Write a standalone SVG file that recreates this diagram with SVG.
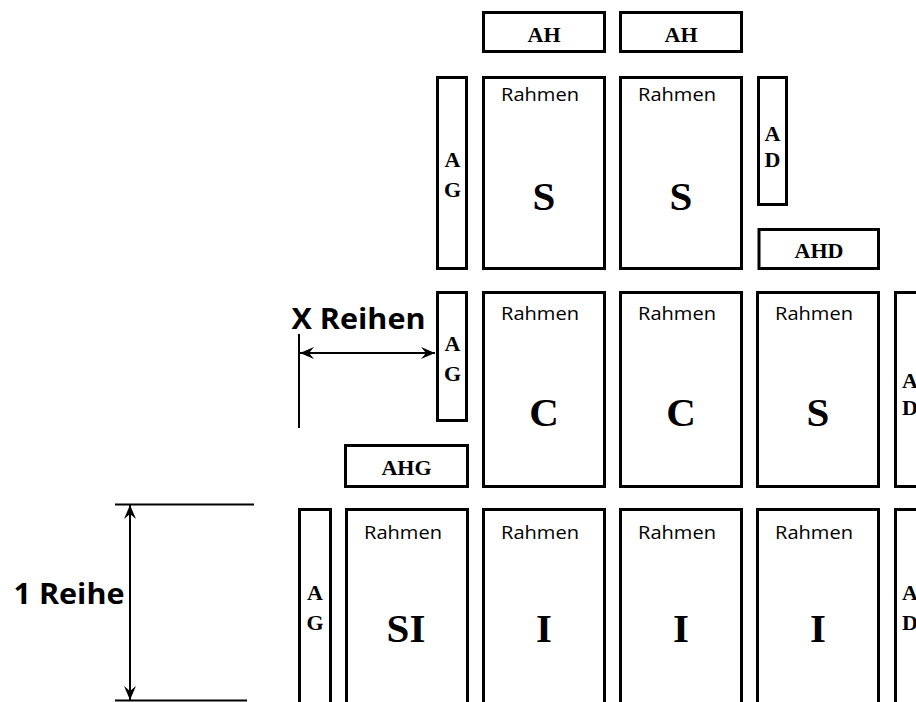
<svg xmlns="http://www.w3.org/2000/svg" width="916" height="702" viewBox="0 0 916 702">
<style>
.box{fill:#fff;stroke:#000;stroke-width:3}
.lbl{font-family:"Liberation Serif","Times New Roman",serif;font-weight:bold;fill:#000;text-anchor:middle}
.sm{font-size:22px}
.big{font-size:41px}
.rah{font-family:"Open Sans","Liberation Sans",sans-serif;font-size:19px;fill:#000;text-anchor:middle}
.dim{font-family:"Open Sans","Liberation Sans",sans-serif;font-weight:bold;font-size:28px;fill:#000}
.ln{stroke:#000;stroke-width:2;fill:none}
</style>
<defs>
<marker id="arr" viewBox="-15 -7 16 14" refX="0" refY="0" markerWidth="16" markerHeight="14" markerUnits="userSpaceOnUse" orient="auto-start-reverse">
<path d="M0,0 L-14,-6 L-9,0 L-14,6 Z" fill="#000"/>
</marker>
</defs>
<rect width="916" height="702" fill="#fff"/>

<!-- top row -->
<g id="ah1"><rect class="box" x="483.5" y="12.5" width="121" height="39"/><text class="lbl sm" x="544" y="42">AH</text></g>
<g id="ah2"><rect class="box" x="620.5" y="12.5" width="121" height="39"/><text class="lbl sm" x="681" y="42">AH</text></g>
<g id="ag1"><rect class="box" x="437.5" y="77.5" width="29" height="191"/><text class="lbl sm" x="452.5" y="167">A</text><text class="lbl sm" x="452.5" y="197">G</text></g>
<g id="s1"><rect class="box" x="483.5" y="77.5" width="121" height="191"/><text class="rah" x="540" y="101" textLength="78" lengthAdjust="spacingAndGlyphs">Rahmen</text><text class="lbl big" x="544" y="210">S</text></g>
<g id="s2"><rect class="box" x="620.5" y="77.5" width="121" height="191"/><text class="rah" x="677" y="101" textLength="78" lengthAdjust="spacingAndGlyphs">Rahmen</text><text class="lbl big" x="681" y="210">S</text></g>
<g id="ad1"><rect class="box" x="758.5" y="77.5" width="28" height="127"/><text class="lbl sm" x="772.5" y="141">A</text><text class="lbl sm" x="772.5" y="167">D</text></g>
<g id="ahd"><rect class="box" x="759" y="229.5" width="119.5" height="39"/><text class="lbl sm" x="819" y="258">AHD</text></g>

<!-- middle row -->
<g id="ag2"><rect class="box" x="437.5" y="292.5" width="29" height="128"/><text class="lbl sm" x="452.5" y="351">A</text><text class="lbl sm" x="452.5" y="381">G</text></g>
<g id="ahg"><rect class="box" x="345.5" y="445.5" width="122" height="41"/><text class="lbl sm" x="406.5" y="475">AHG</text></g>
<g id="c1"><rect class="box" x="483.5" y="292.5" width="121" height="194"/><text class="rah" x="540" y="320" textLength="78" lengthAdjust="spacingAndGlyphs">Rahmen</text><text class="lbl big" x="544" y="426">C</text></g>
<g id="c2"><rect class="box" x="620.5" y="292.5" width="121" height="194"/><text class="rah" x="677" y="320" textLength="78" lengthAdjust="spacingAndGlyphs">Rahmen</text><text class="lbl big" x="681" y="426">C</text></g>
<g id="s3"><rect class="box" x="757.5" y="292.5" width="121" height="194"/><text class="rah" x="814" y="320" textLength="78" lengthAdjust="spacingAndGlyphs">Rahmen</text><text class="lbl big" x="818" y="426">S</text></g>
<g id="ad2"><rect class="box" x="895.5" y="292.5" width="40" height="194"/><text class="lbl sm" x="902" y="388" style="text-anchor:start">A</text><text class="lbl sm" x="902" y="415" style="text-anchor:start">D</text></g>

<!-- bottom row -->
<g id="ag3"><rect class="box" x="299.5" y="509.5" width="31" height="220"/><text class="lbl sm" x="315" y="600">A</text><text class="lbl sm" x="315" y="630">G</text></g>
<g id="si"><rect class="box" x="346.5" y="509.5" width="121" height="220"/><text class="rah" x="403" y="539" textLength="78" lengthAdjust="spacingAndGlyphs">Rahmen</text><text class="lbl big" x="406" y="642">SI</text></g>
<g id="i1"><rect class="box" x="483.5" y="509.5" width="121" height="220"/><text class="rah" x="540" y="539" textLength="78" lengthAdjust="spacingAndGlyphs">Rahmen</text><text class="lbl big" x="544" y="642">I</text></g>
<g id="i2"><rect class="box" x="620.5" y="509.5" width="121" height="220"/><text class="rah" x="677" y="539" textLength="78" lengthAdjust="spacingAndGlyphs">Rahmen</text><text class="lbl big" x="681" y="642">I</text></g>
<g id="i3"><rect class="box" x="757.5" y="509.5" width="121" height="220"/><text class="rah" x="814" y="539" textLength="78" lengthAdjust="spacingAndGlyphs">Rahmen</text><text class="lbl big" x="818" y="642">I</text></g>
<g id="ad3"><rect class="box" x="895.5" y="509.5" width="40" height="220"/><text class="lbl sm" x="902" y="600" style="text-anchor:start">A</text><text class="lbl sm" x="902" y="630" style="text-anchor:start">D</text></g>

<!-- dimension labels -->
<g id="xreihen"><text class="dim" x="291.5" y="329" textLength="134" lengthAdjust="spacingAndGlyphs">X Reihen</text></g>
<g id="einreihe"><text class="dim" x="13.5" y="604" font-size="27" textLength="111" lengthAdjust="spacingAndGlyphs">1 Reihe</text></g>

<!-- connectors -->
<g id="connectors">
<line class="ln" x1="299" y1="334" x2="299" y2="428"/>
<line class="ln" x1="300" y1="353" x2="435" y2="353" marker-start="url(#arr)" marker-end="url(#arr)"/>
<line class="ln" x1="115" y1="504.5" x2="254" y2="504.5"/>
<line class="ln" x1="115" y1="700.5" x2="247" y2="700.5"/>
<line class="ln" x1="130" y1="505" x2="130" y2="700" marker-start="url(#arr)" marker-end="url(#arr)"/>
</g>
</svg>
